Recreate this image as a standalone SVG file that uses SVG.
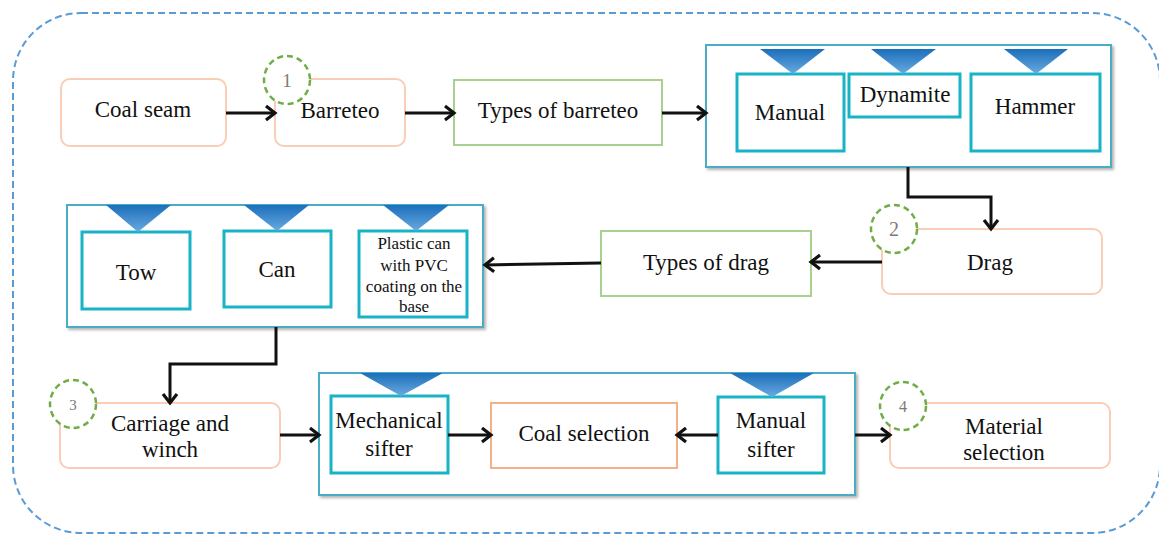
<svg xmlns="http://www.w3.org/2000/svg" width="1159" height="535" viewBox="0 0 1159 535">
<defs>
<style>
.t{font-family:"Liberation Serif","Times New Roman",serif;font-size:23px;fill:#111;text-anchor:middle}
.ts{font-family:"Liberation Serif","Times New Roman",serif;font-size:17px;fill:#111;text-anchor:middle}
.num{font-family:"Liberation Serif","Times New Roman",serif;fill:#7a7a7a;text-anchor:middle}
.step{fill:#fff;stroke:#f9cdb6;stroke-width:2}
.kind{fill:#fff;stroke:#a9d18e;stroke-width:2}
.grp{fill:#fff;stroke:#4bacc6;stroke-width:2}
.item{fill:#fff;stroke:#19b3c6;stroke-width:3}
.sel{fill:#fff;stroke:#f4b183;stroke-width:2}
.badge{fill:#fff;stroke:#70ad47;stroke-width:2.5;stroke-dasharray:6 4}
.tri{fill:url(#tg)}
.c{fill:none;stroke:#111;stroke-width:3;marker-end:url(#ah)}
</style>
<linearGradient id="tg" x1="0" y1="0" x2="0" y2="1">
<stop offset="0" stop-color="#1b6fbb"/>
<stop offset="1" stop-color="#6aa9e0"/>
</linearGradient>
<filter id="sh" x="-5%" y="-5%" width="110%" height="115%">
<feDropShadow dx="2" dy="2" stdDeviation="1.5" flood-color="#000" flood-opacity="0.3"/>
</filter>
<marker id="ah" markerUnits="userSpaceOnUse" markerWidth="16" markerHeight="18" refX="12" refY="9" orient="auto">
<path d="M3,2 L12,9 L3,16" fill="none" stroke="#111" stroke-width="3.2"/>
</marker>
</defs>

<rect x="13" y="13" width="1147" height="520" rx="68" fill="none" stroke="#5b9bd5" stroke-width="2" stroke-dasharray="7 4"/>

<g id="coal-seam"><rect class="step" x="61" y="79" width="165" height="67" rx="9"/><text class="t" x="143" y="117">Coal seam</text></g>
<g id="barreteo"><rect class="step" x="275" y="79" width="130" height="67" rx="9"/><text class="t" x="340" y="118">Barreteo</text>
<ellipse class="badge" cx="287" cy="80" rx="23" ry="24"/><text class="num" x="287" y="87" font-size="19">1</text></g>
<g id="types-barreteo"><rect class="kind" x="454" y="80" width="208" height="65"/><text class="t" x="558" y="118">Types of barreteo</text></g>

<g id="barreteo-types">
<rect class="grp" x="706" y="45" width="405" height="122" filter="url(#sh)"/>
<rect class="item" x="737" y="74" width="107" height="77"/><text class="t" x="790" y="120">Manual</text>
<polygon class="tri" points="760,49 825,49 793,74"/>
<rect class="item" x="849" y="74" width="111" height="43"/><text class="t" x="905" y="102">Dynamite</text>
<polygon class="tri" points="871,49 936,49 903,74"/>
<rect class="item" x="971" y="74" width="129" height="77"/><text class="t" x="1035" y="114">Hammer</text>
<polygon class="tri" points="1004,49 1068,49 1036,74"/>
</g>

<g id="drag"><rect class="step" x="882" y="229" width="220" height="65" rx="9"/><text class="t" x="990" y="270">Drag</text>
<ellipse class="badge" cx="894" cy="229" rx="23" ry="24"/><text class="num" x="894" y="236" font-size="20">2</text></g>
<g id="types-drag"><rect class="kind" x="601" y="231" width="210" height="65"/><text class="t" x="706" y="270">Types of drag</text></g>

<g id="drag-types">
<rect class="grp" x="67" y="205" width="416" height="122" filter="url(#sh)"/>
<rect class="item" x="82" y="232" width="108" height="77"/><text class="t" x="136" y="280">Tow</text>
<polygon class="tri" points="106,205 171,205 138,232"/>
<rect class="item" x="224" y="231" width="107" height="76"/><text class="t" x="277" y="277">Can</text>
<polygon class="tri" points="244,205 309,205 277,231"/>
<rect class="item" x="359" y="231" width="108" height="86"/>
<text class="ts" x="414" y="249">Plastic can</text><text class="ts" x="414" y="271">with PVC</text><text class="ts" x="414" y="292">coating on the</text><text class="ts" x="414" y="312">base</text>
<polygon class="tri" points="383,205 449,205 416,231"/>
</g>

<g id="carriage"><rect class="step" x="60" y="403" width="220" height="65" rx="9"/><text class="t" x="170" y="431">Carriage and</text><text class="t" x="170" y="457">winch</text>
<ellipse class="badge" cx="73" cy="404" rx="23" ry="24"/><text class="num" x="73" y="410" font-size="15">3</text></g>

<g id="sifting">
<rect class="grp" x="319" y="373" width="536" height="122" filter="url(#sh)"/>
<rect class="item" x="331" y="396" width="117" height="77"/><text class="t" x="389" y="428">Mechanical</text><text class="t" x="389" y="456">sifter</text>
<polygon class="tri" points="360,373 443,373 401,396"/>
<rect class="item" x="718" y="397" width="106" height="76"/><text class="t" x="771" y="428">Manual</text><text class="t" x="771" y="457">sifter</text>
<polygon class="tri" points="730,373 814,373 772,397"/>
</g>
<g id="coal-selection"><rect class="sel" x="491" y="403" width="186" height="65"/><text class="t" x="584" y="441">Coal selection</text></g>

<g id="material"><rect class="step" x="890" y="403" width="220" height="65" rx="9"/><text class="t" x="1004" y="434">Material</text><text class="t" x="1004" y="460">selection</text>
<ellipse class="badge" cx="903" cy="406" rx="23" ry="24"/><text class="num" x="903" y="412" font-size="16">4</text></g>

<g id="connectors">
<path class="c" d="M226,113 H275"/>
<path class="c" d="M405,113 H454"/>
<path class="c" d="M662,113 H706"/>
<path class="c" d="M908,167 V197 H991 V229"/>
<path class="c" d="M882,262 H811"/>
<path class="c" d="M601,263 L485,265"/>
<path class="c" d="M276,327 V364 H170 V403"/>
<path class="c" d="M280,435 H319"/>
<path class="c" d="M448,435 H491"/>
<path class="c" d="M718,435 H677"/>
<path class="c" d="M855,435 H890"/>
</g>
</svg>
